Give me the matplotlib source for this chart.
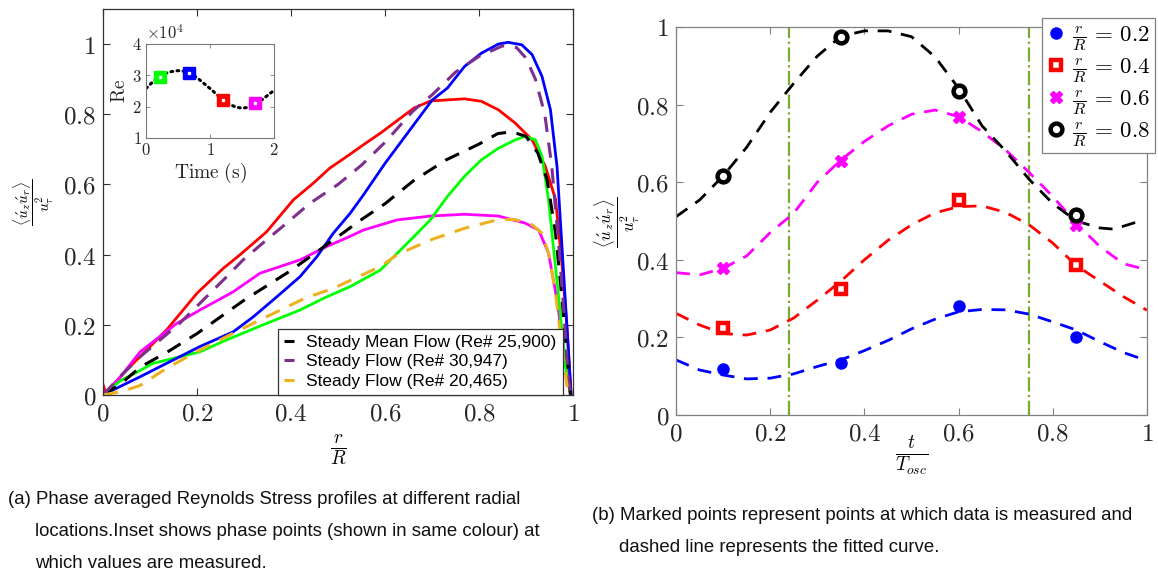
import numpy as np
import matplotlib
matplotlib.use("Agg")
import matplotlib.pyplot as plt

plt.rcParams['mathtext.fontset'] = 'cm'
plt.rcParams['font.family'] = ['Liberation Sans', 'DejaVu Sans']

W, H = 1158, 581

# ---- (a) Reynolds stress profiles
r_red = [0, 0.006, 0.05, 0.086, 0.135, 0.2, 0.256, 0.291, 0.348, 0.405, 0.447, 0.482, 0.518,
         0.554, 0.59, 0.626, 0.662, 0.697, 0.769, 0.805, 0.841, 0.877, 0.913, 0.941, 0.963,
         0.977, 0.988, 0.996]
v_red = [0.03, 0.005, 0.071, 0.119, 0.185, 0.29, 0.361, 0.399, 0.465, 0.556, 0.603, 0.646, 0.679,
         0.713, 0.746, 0.782, 0.818, 0.838, 0.844, 0.837, 0.813, 0.775, 0.727, 0.652, 0.557,
         0.366, 0.176, 0.0]

r_blue = [0, 0.036, 0.079, 0.135, 0.206, 0.277, 0.32, 0.37, 0.419, 0.455, 0.49, 0.526, 0.554,
          0.6, 0.65, 0.7, 0.733, 0.769, 0.805, 0.841, 0.862, 0.891, 0.913, 0.934, 0.952, 0.966,
          0.977, 0.988, 0.996]
v_blue = [0.0, 0.024, 0.052, 0.09, 0.138, 0.18, 0.223, 0.28, 0.337, 0.394, 0.461, 0.518, 0.57,
          0.66, 0.75, 0.84, 0.875, 0.936, 0.974, 1.0, 1.005, 0.998, 0.97, 0.908, 0.813, 0.651,
          0.413, 0.176, 0.0]

r_green = [0, 0.036, 0.068, 0.106, 0.206, 0.263, 0.348, 0.419, 0.47, 0.526, 0.59, 0.626, 0.662,
           0.697, 0.733, 0.769, 0.805, 0.841, 0.877, 0.898, 0.92, 0.934, 0.948, 0.959, 0.97,
           0.984, 0.995]
v_green = [0.0, 0.04, 0.062, 0.09, 0.123, 0.157, 0.204, 0.242, 0.276, 0.309, 0.356, 0.404, 0.452,
           0.5, 0.566, 0.623, 0.67, 0.703, 0.727, 0.737, 0.727, 0.68, 0.556, 0.413, 0.271,
           0.08, 0.0]

r_mag = [0, 0.036, 0.079, 0.157, 0.206, 0.277, 0.334, 0.419, 0.476, 0.522, 0.554, 0.626, 0.697,
         0.769, 0.841, 0.898, 0.927, 0.948, 0.966, 0.981, 0.994]
v_mag = [0.0, 0.05, 0.123, 0.204, 0.242, 0.294, 0.347, 0.385, 0.423, 0.45, 0.47, 0.499, 0.51,
         0.515, 0.51, 0.49, 0.47, 0.404, 0.27, 0.128, 0.0]

r_mean = [0, 0.036, 0.08, 0.14, 0.2, 0.3, 0.4, 0.48, 0.55, 0.6, 0.66, 0.73, 0.8, 0.84, 0.87,
          0.9, 0.925, 0.945, 0.963, 0.977, 0.988, 0.995]
v_mean = [0.0, 0.03, 0.08, 0.125, 0.175, 0.27, 0.355, 0.432, 0.5, 0.545, 0.61, 0.67, 0.715, 0.745,
          0.75, 0.737, 0.69, 0.613, 0.46, 0.27, 0.1, 0.0]

r_hi = [0, 0.036, 0.079, 0.163, 0.206, 0.263, 0.298, 0.348, 0.39, 0.44, 0.5, 0.55, 0.6, 0.66,
        0.7, 0.75, 0.8, 0.85, 0.88, 0.9, 0.92, 0.94, 0.955, 0.97, 0.98, 0.99, 0.996]
v_hi = [0.0, 0.052, 0.109, 0.204, 0.261, 0.337, 0.385, 0.442, 0.489, 0.546, 0.6, 0.655, 0.72, 0.81,
        0.855, 0.92, 0.965, 0.995, 0.99, 0.96, 0.9, 0.8, 0.65, 0.42, 0.25, 0.05, 0.0]

r_lo = [0, 0.04, 0.079, 0.135, 0.206, 0.277, 0.348, 0.43, 0.49, 0.59, 0.626, 0.697, 0.769,
        0.841, 0.877, 0.913, 0.934, 0.948, 0.963, 0.977, 0.988, 0.995]
v_lo = [0.0, 0.01, 0.027, 0.076, 0.128, 0.176, 0.223, 0.276, 0.304, 0.366, 0.4, 0.442, 0.475,
        0.5, 0.5, 0.485, 0.461, 0.404, 0.29, 0.128, 0.02, 0.0]

legend_a = ['Steady Mean Flow (Re# 25,900)', 'Steady Flow (Re# 30,947)', 'Steady Flow (Re# 20,465)']

# inset: Re (x1e4) over one cycle
t_re = [0, 0.1, 0.2, 0.3, 0.4, 0.5, 0.6, 0.7, 0.8, 0.9, 1.0, 1.1, 1.2, 1.3, 1.4, 1.5, 1.6, 1.7,
        1.8, 1.9, 2.0]
re = [2.58, 2.78, 2.95, 3.06, 3.12, 3.15, 3.13, 3.06, 2.92, 2.75, 2.58, 2.4, 2.22, 2.08, 1.99,
      1.95, 1.98, 2.07, 2.2, 2.36, 2.52]
t_phase = [0.22, 0.675, 1.2, 1.71]
re_phase = [2.96, 3.09, 2.21, 2.12]
phase_colors = ['#00FF00', '#0000FF', '#FF0000', '#FF00FF']

# ---- (b) phase points and fitted curves
t_meas = [0.1, 0.35, 0.6, 0.85]
p02 = [0.118, 0.133, 0.282, 0.202]
p04 = [0.225, 0.324, 0.554, 0.387]
p06 = [0.378, 0.655, 0.769, 0.49]
p08 = [0.616, 0.975, 0.835, 0.515]

t_fit = [0, 0.05, 0.1, 0.15, 0.2, 0.25, 0.3, 0.35, 0.4, 0.45, 0.5, 0.55, 0.6, 0.65, 0.7, 0.75,
         0.8, 0.85, 0.9, 0.95, 1.0]
fit02 = [0.142, 0.116, 0.103, 0.093, 0.095, 0.106, 0.125, 0.142, 0.166, 0.192, 0.222, 0.247,
         0.266, 0.272, 0.271, 0.26, 0.24, 0.219, 0.189, 0.161, 0.14]
fit04 = [0.262, 0.232, 0.21, 0.206, 0.219, 0.25, 0.296, 0.345, 0.4, 0.45, 0.49, 0.521, 0.537,
         0.539, 0.522, 0.49, 0.443, 0.385, 0.345, 0.305, 0.27]
fit06 = [0.367, 0.361, 0.378, 0.41, 0.47, 0.52, 0.6, 0.657, 0.705, 0.745, 0.775, 0.786, 0.769,
         0.73, 0.683, 0.625, 0.563, 0.494, 0.434, 0.39, 0.374]
t_fit08 = [0, 0.05, 0.1, 0.15, 0.2, 0.25, 0.3, 0.35, 0.4, 0.45, 0.5, 0.55, 0.6, 0.65, 0.7, 0.75,
           0.8, 0.85, 0.9, 0.93, 0.98]
fit08 = [0.511, 0.554, 0.616, 0.69, 0.78, 0.855, 0.925, 0.976, 0.99, 0.99, 0.975, 0.923, 0.842,
         0.745, 0.68, 0.607, 0.545, 0.5, 0.482, 0.479, 0.498]
t_marks = [0.24, 0.75]
legend_b = [r'$\frac{r}{R}\,=\,0.2$', r'$\frac{r}{R}\,=\,0.4$', r'$\frac{r}{R}\,=\,0.6$',
            r'$\frac{r}{R}\,=\,0.8$']

ticks = [0, 0.2, 0.4, 0.6, 0.8, 1]
tick_labels = ['0', '0.2', '0.4', '0.6', '0.8', '1']
ylab = r'$\dfrac{\langle \acute{u}_z \acute{u}_r \rangle}{u_\tau^2}$'


def box(x0, y0, x1, y1):
    # pixel box (top-left origin) -> figure fraction rect
    return [x0 / W, 1 - y1 / H, (x1 - x0) / W, (y1 - y0) / H]


def style_axes(ax, spine_col, fs):
    ax.set_xticks(ticks)
    ax.set_xticklabels(['$%s$' % s for s in tick_labels])
    ax.set_yticks(ticks)
    ax.set_yticklabels(['$%s$' % s for s in tick_labels])
    ax.tick_params(direction='in', top=True, right=True, length=5, width=0.8,
                   labelsize=fs, colors=spine_col, labelcolor='#262626', pad=5)
    for s in ax.spines.values():
        s.set_color(spine_col)
        s.set_linewidth(0.9)


def plot_profiles(fig):
    ax = fig.add_axes(box(103, 9, 573, 395))
    ax.plot(r_red, v_red, color='#FF0000', lw=2)
    ax.plot(r_mag, v_mag, color='#FF00FF', lw=2)
    ax.plot(r_green, v_green, color='#00FF00', lw=2)
    ax.plot(r_blue, v_blue, color='#0000FF', lw=2)
    h1, = ax.plot(r_mean, v_mean, color='k', lw=2.2, dashes=(5, 3.5), label=legend_a[0])
    h2, = ax.plot(r_hi, v_hi, color='#7E2F8E', lw=2.2, dashes=(5, 3.5), label=legend_a[1])
    h3, = ax.plot(r_lo, v_lo, color='#EDB120', lw=2.2, dashes=(5, 3.5), label=legend_a[2])
    ax.set_xlim(0, 1)
    ax.set_ylim(0, 1.1)
    style_axes(ax, '#333333', 18)
    ax.set_xlabel(r'$\frac{r}{R}$', fontsize=20)
    ax.xaxis.set_label_coords(0.5, -0.095)
    ax.set_ylabel(ylab, fontsize=11)
    ax.yaxis.set_label_coords(-0.1, 0.5)
    leg = ax.legend(handles=[h1, h2, h3], loc='lower left', bbox_to_anchor=(0.372, 0.0),
                    borderaxespad=0, fontsize=12.5, handlelength=0.6, handletextpad=0.7,
                    labelspacing=0.25, fancybox=False, framealpha=1, borderpad=0.35)
    leg.get_frame().set_edgecolor('#333333')
    leg.get_frame().set_linewidth(0.9)

    ins = fig.add_axes(box(146, 44, 274, 138))
    ins.plot(t_re, re, color='k', lw=2.2, linestyle=(0, (0.6, 1.4)), dash_capstyle='round')
    for tp, rp, c in zip(t_phase, re_phase, phase_colors):
        ins.plot(tp, rp, 's', color=c, ms=8.5)
        ins.plot(tp, rp, 's', color='white', ms=1.5)
    ins.set_xlim(0, 2)
    ins.set_ylim(1, 4)
    ins.set_xticks([0, 1, 2])
    ins.set_xticklabels(['$0$', '$1$', '$2$'])
    ins.set_yticks([1, 2, 3, 4])
    ins.set_yticklabels(['$1$', '$2$', '$3$', '$4$'])
    ins.tick_params(direction='in', top=True, right=True, length=3, width=0.6,
                    labelsize=12, colors='#777777', labelcolor='#262626', pad=3)
    for s in ins.spines.values():
        s.set_color('#777777')
        s.set_linewidth(0.8)
    ins.set_xlabel(r'$\mathrm{Time\ (s)}$', fontsize=14, labelpad=2, color='#262626')
    ins.set_ylabel(r'$\mathrm{Re}$', fontsize=14, labelpad=2, color='#262626')
    ins.text(0.0, 1.02, r'$\times10^{4}$', transform=ins.transAxes, fontsize=12,
             color='#262626', va='bottom', ha='left')


def plot_phase(fig):
    ax = fig.add_axes(box(676, 27, 1147, 415))
    for x in t_marks:
        ax.axvline(x, color='#77AC30', lw=1.6, linestyle='-.', zorder=1)
    ax.plot(t_fit, fit02, color='#0000FF', lw=2, dashes=(5, 3.5))
    ax.plot(t_fit, fit04, color='#FF0000', lw=2, dashes=(5, 3.5))
    ax.plot(t_fit, fit06, color='#FF00FF', lw=2, dashes=(5, 3.5))
    ax.plot(t_fit08, fit08, color='k', lw=2, dashes=(5, 3.5))
    m1, = ax.plot(t_meas, p02, 'o', color='#0000FF', ms=8, ls='none', label=legend_b[0])
    m2, = ax.plot(t_meas, p04, 's', mfc='white', mec='#FF0000', mew=3.2, ms=7, ls='none',
                  label=legend_b[1])
    m3, = ax.plot(t_meas, p06, 'X', color='#FF00FF', ms=9, ls='none', label=legend_b[2])
    m4, = ax.plot(t_meas, p08, 'o', mfc='white', mec='k', mew=3.2, ms=8.5, ls='none',
                  label=legend_b[3])
    ax.set_xlim(0, 1)
    ax.set_ylim(0, 1)
    style_axes(ax, '#808080', 18)
    ax.set_xlabel(r'$\frac{t}{T_{osc}}$', fontsize=20)
    ax.xaxis.set_label_coords(0.5, -0.05)
    ax.set_ylabel(ylab, fontsize=12)
    ax.yaxis.set_label_coords(-0.072, 0.495)
    leg = fig.legend(handles=[m1, m2, m3, m4], loc='upper left',
                     bbox_to_anchor=(1042 / W, 1 - 18 / H), borderaxespad=0, fontsize=16.5,
                     handlelength=0.8, handletextpad=0.3, labelspacing=0.12, borderpad=0.2,
                     fancybox=False, framealpha=1)
    leg.get_frame().set_edgecolor('#808080')
    leg.get_frame().set_linewidth(0.9)


def main():
    fig = plt.figure(figsize=(W / 100, H / 100), dpi=100)
    plot_profiles(fig)
    plot_phase(fig)

    cap = dict(fontsize=13.4, color='#111111', va='center', ha='left')
    fig.text(8 / W, 1 - 500 / H, '(a) Phase averaged Reynolds Stress profiles at different radial', **cap)
    fig.text(35 / W, 1 - 532 / H, 'locations.Inset shows phase points (shown in same colour) at', **cap)
    fig.text(35 / W, 1 - 564 / H, 'which values are measured.', **cap)
    fig.text(592 / W, 1 - 515 / H, '(b) Marked points represent points at which data is measured and', **cap)
    fig.text(619 / W, 1 - 547 / H, 'dashed line represents the fitted curve.', **cap)

    fig.savefig('out.png', dpi=100)


if __name__ == "__main__":
    main()
